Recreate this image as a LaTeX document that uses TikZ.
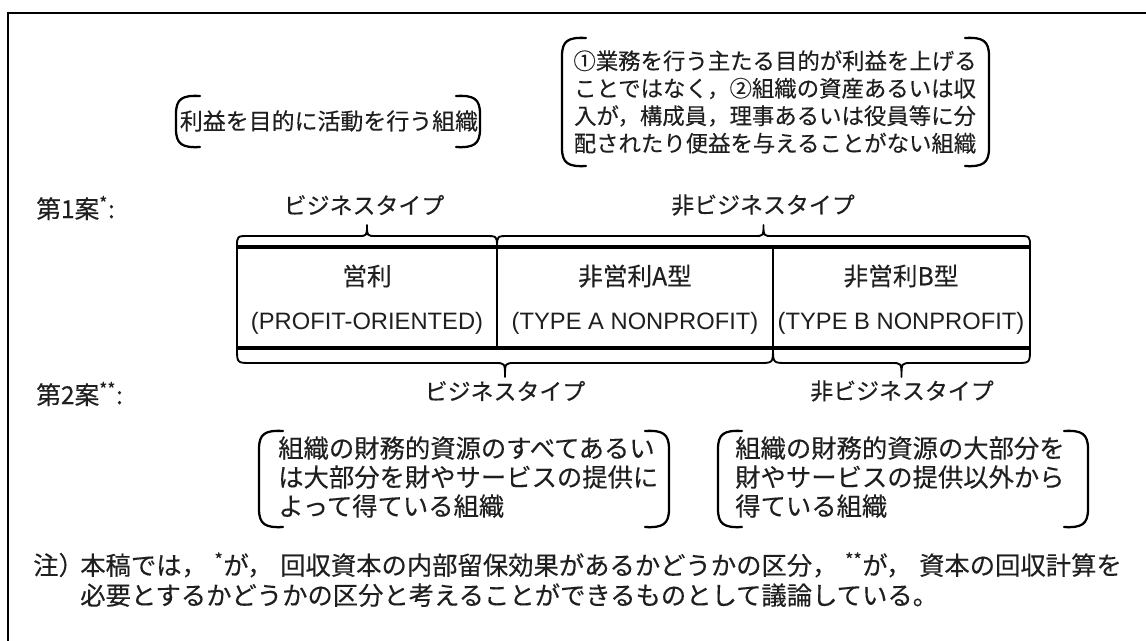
\documentclass[tikz,border=0pt]{standalone}
\usepackage{fontspec}
\setmainfont{Liberation Sans}
\newfontfamily\jp[FakeBold=0.25]{Noto Sans CJK JP}
\newcommand\cma{，\hspace{0.3em}}
\newcommand\lbkt[3]{\draw[bkt] ({#1+24},#2) .. controls ({#1+6},{#2-1}) and (#1,{#2+3}) .. (#1,{#2+18}) -- (#1,{#3-18}) .. controls (#1,{#3-3}) and ({#1+6},{#3+1}) .. ({#1+24},#3);}
\newcommand\rbkt[3]{\draw[bkt] ({#1-24},#2) .. controls ({#1-6},{#2-1}) and (#1,{#2+3}) .. (#1,{#2+18}) -- (#1,{#3-18}) .. controls (#1,{#3-3}) and ({#1-6},{#3+1}) .. ({#1-24},#3);}
\newcommand\braceup[3]{\draw[brc] (#1,#3) .. controls (#1,{#3-11}) .. ({#1+12},{#3-11}) -- ({(#1+#2)/2-9},{#3-11}) .. controls ({(#1+#2)/2},{#3-11}) .. ({(#1+#2)/2},{#3-22}) .. controls ({(#1+#2)/2},{#3-11}) .. ({(#1+#2)/2+9},{#3-11}) -- ({#2-12},{#3-11}) .. controls (#2,{#3-11}) .. (#2,#3);}
\newcommand\bracedown[3]{\draw[brc] (#1,#3) .. controls (#1,{#3+15}) .. ({#1+14},{#3+15}) -- ({(#1+#2)/2-10},{#3+15}) .. controls ({(#1+#2)/2},{#3+15}) .. ({(#1+#2)/2},{#3+29}) .. controls ({(#1+#2)/2},{#3+15}) .. ({(#1+#2)/2+10},{#3+15}) -- ({#2-14},{#3+15}) .. controls (#2,{#3+15}) .. (#2,#3);}
\begin{document}
\begin{tikzpicture}[x=0.75pt,y=-0.75pt,
  jt/.style={font=\jp\fontsize{17.2}{20.6}\selectfont, inner sep=0pt, text=black!88},
  jtr/.style={font=\jp\fontsize{16.8}{20.6}\selectfont, inner sep=0pt, text=black!88},
  jtl/.style={font=\jp\fontsize{18.5}{22}\selectfont, inner sep=0pt, text=black!88},
  jtb/.style={font=\jp\fontsize{19}{21.75}\selectfont, inner sep=0pt, text=black!88},
  et/.style={font=\fontsize{17.8}{20}\selectfont, inner sep=0pt, text=black!88},
  nt/.style={font=\jp\fontsize{19}{22.5}\selectfont, inner sep=0pt, text=black!88},
  frame/.style={line width=2.2pt},
  bkt/.style={line width=1.7pt, line cap=round},
  brc/.style={line width=1.4pt, line cap=round, line join=round},
  tbl/.style={line width=1.6pt},
  tblh/.style={line width=2.5pt}]
\useasboundingbox (0,0) rectangle (1146,640);
\clip (0,0) rectangle (1146,640);
\fill[white] (0,0) rectangle (1146,640);
\draw[frame] (8,660) -- (8,13) -- (1160,13);

% top bracket boxes
\lbkt{176}{96}{147}
\rbkt{480}{96}{147}
\node[jt] (profit) at (329,121) {利益を目的に活動を行う組織};
\lbkt{562}{38}{166}
\rbkt{989}{38}{166}
\node[jtr, align=center] (nonprofit) at (775,102) {①業務を行う主たる目的が利益を上げる\\ことではなく，②組織の資産あるいは収\\入が，構成員，理事あるいは役員等に分\\配されたり便益を与えることがない組織};

% proposal 1
\node[jtl, anchor=west] (p1) at (36,208) {第1案\textsuperscript{*}:};
\node[jt] (b1) at (364,205) {ビジネスタイプ};
\node[jt] (nb1) at (763,205) {非ビジネスタイプ};
\braceup{237}{497}{247}
\braceup{497}{1030}{247}

% table
\draw[tblh] (236,247) -- (1031,247);
\draw[tblh] (236,348) -- (1031,348);
\draw[tbl] (237,247) -- (237,348);
\draw[tbl] (497,247) -- (497,348);
\draw[tbl] (773,247) -- (773,348);
\draw[tbl] (1030,247) -- (1030,348);
\node[jtl] (c1j) at (367,276) {営利};
\node[et] (c1e) at (367,323) {(PROFIT-ORIENTED)};
\node[jtl] (c2j) at (635,276) {非営利A型};
\node[et] (c2e) at (635,323) {(TYPE A NONPROFIT)};
\node[jtl] (c3j) at (901,276) {非営利B型};
\node[et] (c3e) at (901,323) {(TYPE B NONPROFIT)};

% proposal 2
\bracedown{237}{773}{348}
\bracedown{773}{1030}{348}
\node[jtl, anchor=west] (p2) at (36,394) {第2案\textsuperscript{**}:};
\node[jt] (b2) at (505,391) {ビジネスタイプ};
\node[jt] (nb2) at (902,391) {非ビジネスタイプ};

% bottom bracket boxes
\lbkt{259}{431}{527}
\rbkt{669}{431}{527}
\node[jtb, align=left, anchor=north west] (fin1) at (278,436) {組織の財務的資源のすべてあるい\\は大部分を財やサービスの提供に\\よって得ている組織};
\lbkt{718}{431}{527}
\rbkt{1088}{431}{527}
\node[jtb, align=left, anchor=north west] (fin2) at (735,436) {組織の財務的資源の大部分を\\財やサービスの提供以外から\\得ている組織};

% note
\node[nt, anchor=west] (note) at (33,565) {注）};
\node[nt, anchor=north west, align=left] (notetext) at (80,552) {本稿では\cma\textsuperscript{*}が\cma 回収資本の内部留保効果があるかどうかの区分\cma\textsuperscript{**}が\cma 資本の回収計算を\\必要とするかどうかの区分と考えることができるものとして議論している。};
\end{tikzpicture}
\end{document}
